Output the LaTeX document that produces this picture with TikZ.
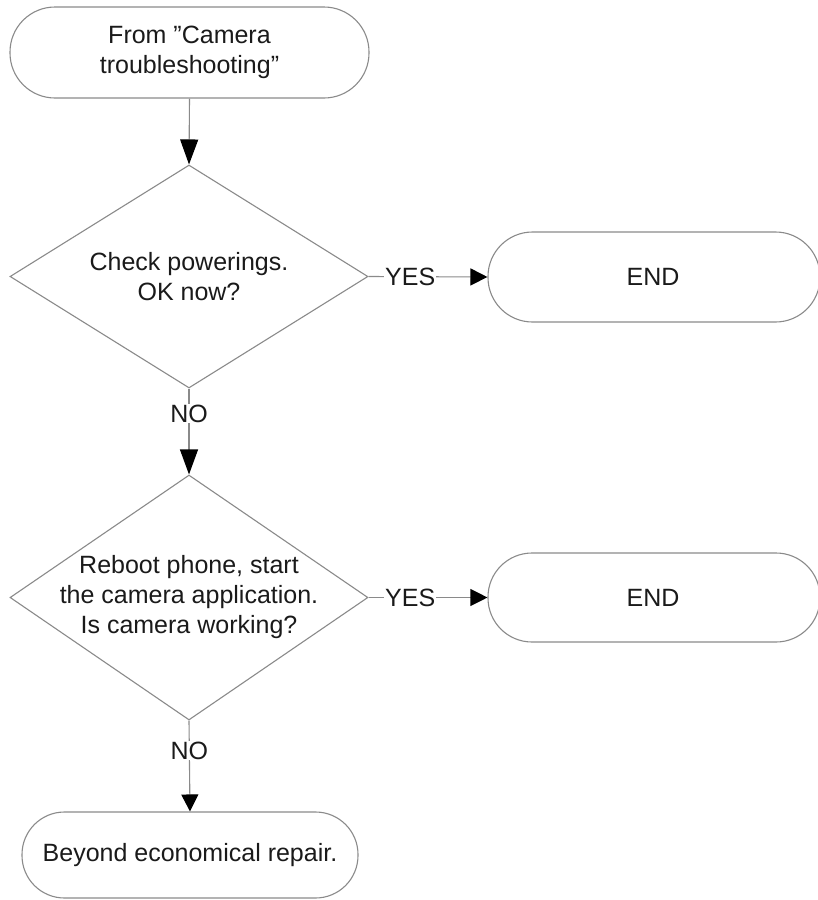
\documentclass[tikz,border=0pt]{standalone}
\usepackage{fontspec}
\setmainfont{Liberation Sans}
\usetikzlibrary{arrows.meta,shapes.geometric}
\definecolor{linegray}{HTML}{8A8A8A}
\definecolor{textdark}{HTML}{1A1A1A}
\begin{document}
\begin{tikzpicture}[x=1pt,y=-1pt,
  every node/.style={text=textdark},
  txt/.style={font=\fontsize{25}{30}\selectfont, align=center, inner sep=0pt},
  outline/.style={draw=linegray, line width=1.1pt},
  terminal/.style={outline, rectangle, inner sep=0pt},
  decision/.style={outline, diamond, inner sep=0pt},
  conn/.style={draw=linegray, line width=1.1pt,
    -{Triangle[length=17pt,width=17pt,color=black]}},
  longconn/.style={draw=linegray, line width=1.1pt,
    -{Triangle[length=25pt,width=18pt,color=black]}},
  lbl/.style={txt, fill=white, inner sep=1pt}
]
\useasboundingbox (0,0) rectangle (817,900);

% start terminal
\node[terminal, minimum width=359pt, minimum height=91pt, rounded corners=45pt]
  (start) at (189.5,52.5) {};
\node[txt] (starttxt) at (start) {From ”Camera\\troubleshooting”};

% first decision
\node[decision, minimum width=358pt, minimum height=223pt] (d1) at (189,276.5) {};
\node[txt] (d1txt) at (d1) {Check powerings.\\OK now?};

% first end
\node[terminal, minimum width=332pt, minimum height=90pt, rounded corners=44.5pt]
  (e1) at (654,277) {};
\node[txt] (e1txt) at (653,277) {END};

% second decision
\node[decision, minimum width=358pt, minimum height=245pt] (d2) at (189,597.5) {};
\node[txt] (d2txt) at (d2) {Reboot phone, start\\the camera application.\\Is camera working?};

% second end
\node[terminal, minimum width=332pt, minimum height=89pt, rounded corners=44pt]
  (e2) at (654,597.5) {};
\node[txt] (e2txt) at (653,597.5) {END};

% final terminal
\node[terminal, minimum width=336pt, minimum height=86pt, rounded corners=42.5pt]
  (ber) at (190,855) {};
\node[txt] (bertxt) at (ber) {Beyond economical repair.};

% connectors
\draw[longconn] (start.south) -- (d1.north);
\draw[conn] (d1.east) -- node[lbl, pos=0.35] {YES} (e1.west);
\draw[longconn] (d1.south) -- node[lbl, pos=0.29] {NO} (d2.north);
\draw[conn] (d2.east) -- node[lbl, pos=0.35] {YES} (e2.west);
\draw[conn] (d2.south) -- node[lbl, pos=0.33] {NO} (ber.north);
\end{tikzpicture}
\end{document}
